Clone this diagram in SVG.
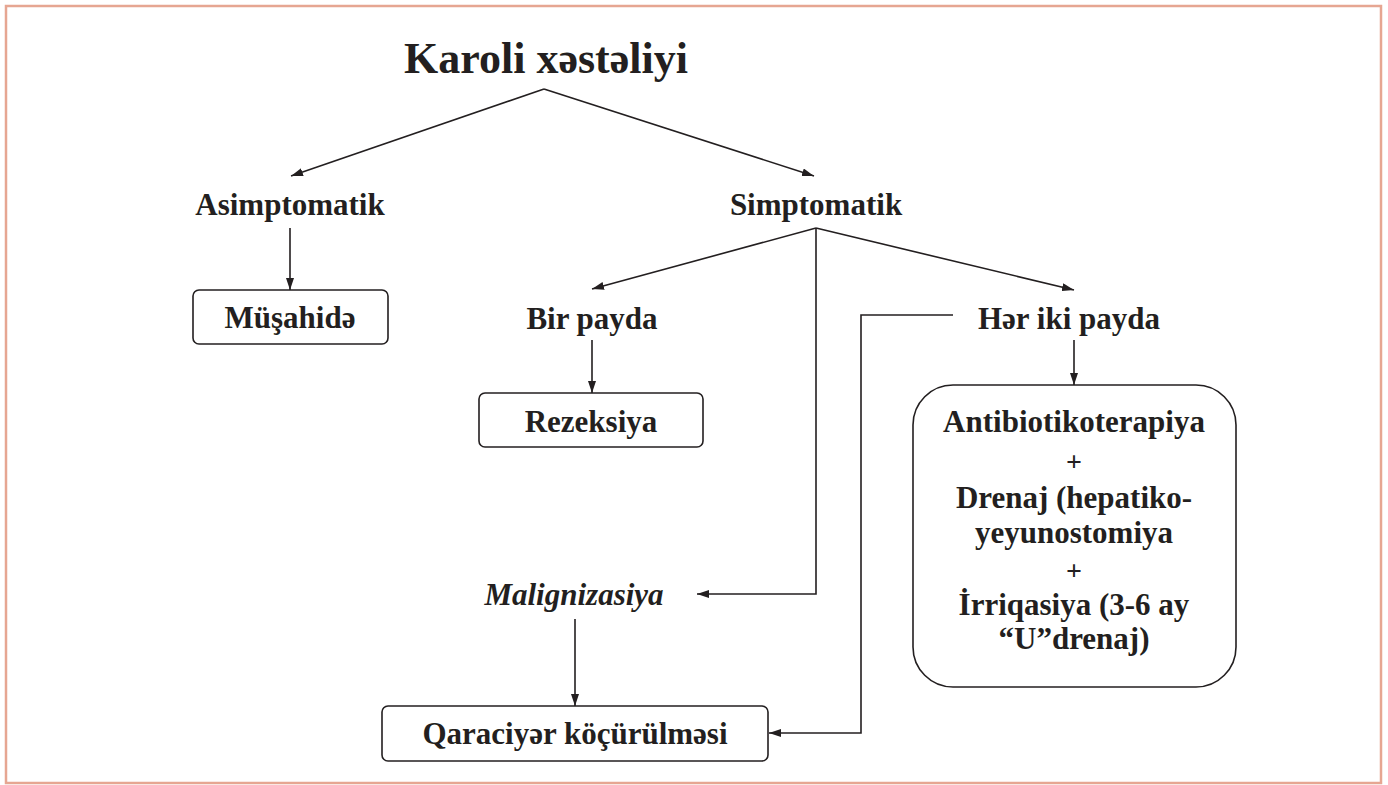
<svg xmlns="http://www.w3.org/2000/svg" width="1388" height="785" viewBox="0 0 1388 785">
<style>
.t{font-family:"Liberation Serif","Times New Roman",serif;font-weight:bold;font-size:31px;fill:#231f20;text-anchor:middle}
.ti{font-style:italic}
.big{font-size:44px}
.plus{font-size:28px}
.box{fill:#fff;stroke:#231f20;stroke-width:1.6}
.c{fill:none;stroke:#231f20;stroke-width:1.6}
</style>
<defs>
<marker id="ah" viewBox="0 0 12 8" refX="12" refY="4" markerWidth="12" markerHeight="8" markerUnits="userSpaceOnUse" orient="auto">
<path d="M0,0 L12,4 L0,8 Z" fill="#231f20"/>
</marker>
</defs>
<rect x="6" y="6" width="1375" height="777" fill="#fff" stroke="#e6a692" stroke-width="2.5"/>
<g id="connectors">
<path class="c" d="M544,89 L291,176" marker-end="url(#ah)"/>
<path class="c" d="M544,89 L814,176" marker-end="url(#ah)"/>
<path class="c" d="M290,228 L290,290" marker-end="url(#ah)"/>
<path class="c" d="M816,228 L592,289" marker-end="url(#ah)"/>
<path class="c" d="M816,228 L1074,290" marker-end="url(#ah)"/>
<path class="c" d="M816,228 L816,594 L697,594" marker-end="url(#ah)"/>
<path class="c" d="M592,340 L592,393" marker-end="url(#ah)"/>
<path class="c" d="M1074,340 L1074,385" marker-end="url(#ah)"/>
<path class="c" d="M953,315 L861,315 L861,733 L769,733" marker-end="url(#ah)"/>
<path class="c" d="M575,619 L575,706" marker-end="url(#ah)"/>
</g>
<g id="title"><text class="t big" x="546" y="73">Karoli xəstəliyi</text></g>
<g id="asimptomatik"><text class="t" x="290" y="215">Asimptomatik</text></g>
<g id="simptomatik"><text class="t" x="816" y="215">Simptomatik</text></g>
<g id="musahide"><rect class="box" x="193" y="290" width="195" height="54" rx="6"/><text class="t" x="290" y="328">Müşahidə</text></g>
<g id="bir-payda"><text class="t" x="592" y="329">Bir payda</text></g>
<g id="her-iki-payda"><text class="t" x="1069" y="329">Hər iki payda</text></g>
<g id="rezeksiya"><rect class="box" x="479" y="393" width="224" height="54" rx="6"/><text class="t" x="591" y="432">Rezeksiya</text></g>
<g id="treatment"><rect class="box" x="913" y="385" width="323" height="302" rx="40"/>
<text class="t" x="1074" y="432">Antibiotikoterapiya</text>
<text class="t plus" x="1074" y="471">+</text>
<text class="t" x="1074" y="508">Drenaj (hepatiko-</text>
<text class="t" x="1074" y="543">yeyunostomiya</text>
<text class="t plus" x="1074" y="580">+</text>
<text class="t" x="1074" y="615">İrriqasiya (3-6 ay</text>
<text class="t" x="1074" y="649">“U”drenaj)</text>
</g>
<g id="malignizasiya"><text class="t ti" x="574" y="605">Malignizasiya</text></g>
<g id="qaraciyer"><rect class="box" x="382" y="706" width="386" height="55" rx="6"/><text class="t" x="575" y="744">Qaraciyər köçürülməsi</text></g>
</svg>
